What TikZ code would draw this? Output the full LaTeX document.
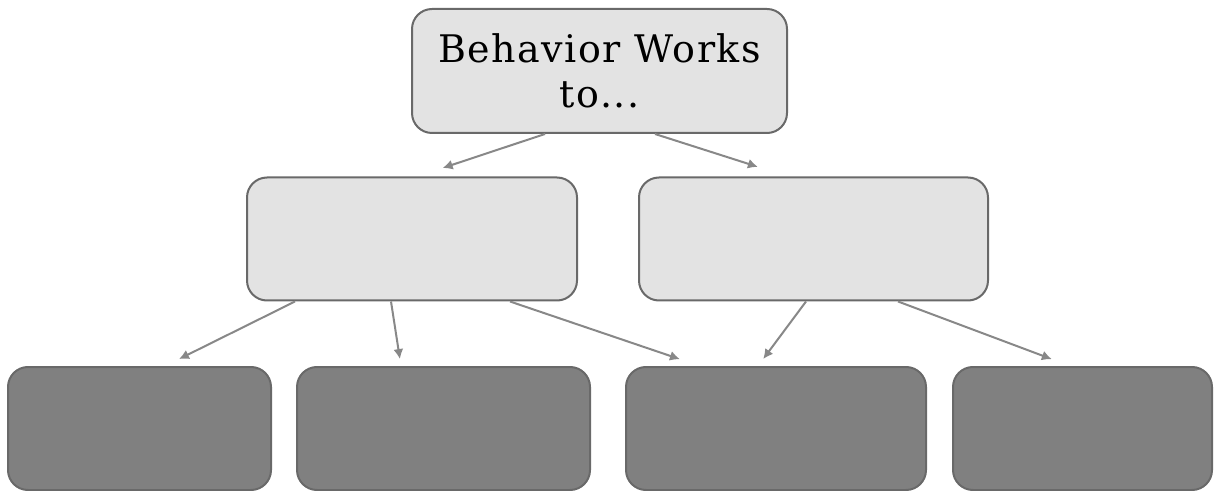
\documentclass[tikz,border=0pt]{standalone}
\usepackage{fontspec}
\newfontfamily\labelfont[LetterSpace=4]{DejaVu Serif}
\usetikzlibrary{arrows.meta,calc}
\definecolor{light}{RGB}{227,227,227}
\definecolor{dark}{RGB}{128,128,128}
\definecolor{edge}{RGB}{105,105,105}
\definecolor{link}{RGB}{136,136,136}
\tikzset{
  box/.style={draw=edge, line width=1pt, rounded corners=10pt, align=center, inner sep=0pt, minimum height=61.5pt, minimum width=#1},
  box/.default=150pt,
  lightb/.style={box=#1, fill=light},
  lightb/.default=150pt,
  darkb/.style={box=#1, fill=dark},
  darkb/.default=140pt,
  arr/.style={-{Latex[length=5pt,width=5pt]}, line width=1pt, draw=link, fill=link},
}

\begin{document}
\begin{tikzpicture}[x=0.5pt, y=-0.5pt]
  \useasboundingbox (0,0) rectangle (1214,491);
  \node[lightb=187.5pt, minimum height=62pt, font=\labelfont\fontsize{19}{22.3}\selectfont] (top) at (599.5,71) {Behavior Works\\ to...};
  \node[lightb=165pt] (midl) at (412,239) {};
  \node[lightb=174.5pt] (midr) at (813.5,239) {};
  \node[darkb=131.5pt] (b1) at (139.5,428.5) {};
  \node[darkb=146.5pt] (b2) at (443.5,428.5) {};
  \node[darkb=150pt] (b3) at (776,428.5) {};
  \node[darkb=129.5pt] (b4) at (1082.5,428.5) {};
  % top level
  \draw[arr, shorten >=13.5pt] ([xshift=-27.25pt]top.south) -- ([xshift=2.5pt]midl.north);
  \draw[arr, shorten >=15.8pt] ([xshift=27.75pt]top.south) -- ([xshift=-12.75pt]midr.north);
  % second level
  \draw[arr, shorten >=7.8pt] ([xshift=-58.5pt]midl.south) -- ([xshift=12.75pt]b1.north);
  \draw[arr, shorten >=3.5pt] ([xshift=-10.5pt]midl.south) -- ([xshift=-21.25pt]b2.north);
  \draw[arr, shorten >=10.6pt] ([xshift=49pt]midl.south) -- ([xshift=-38pt]b3.north);
  \draw[arr, shorten >=4.3pt] ([xshift=-3.75pt]midr.south) -- ([xshift=-9pt]b3.north);
  \draw[arr, shorten >=9.7pt] ([xshift=42.25pt]midr.south) -- ([xshift=-6.25pt]b4.north);
\end{tikzpicture}
\end{document}
